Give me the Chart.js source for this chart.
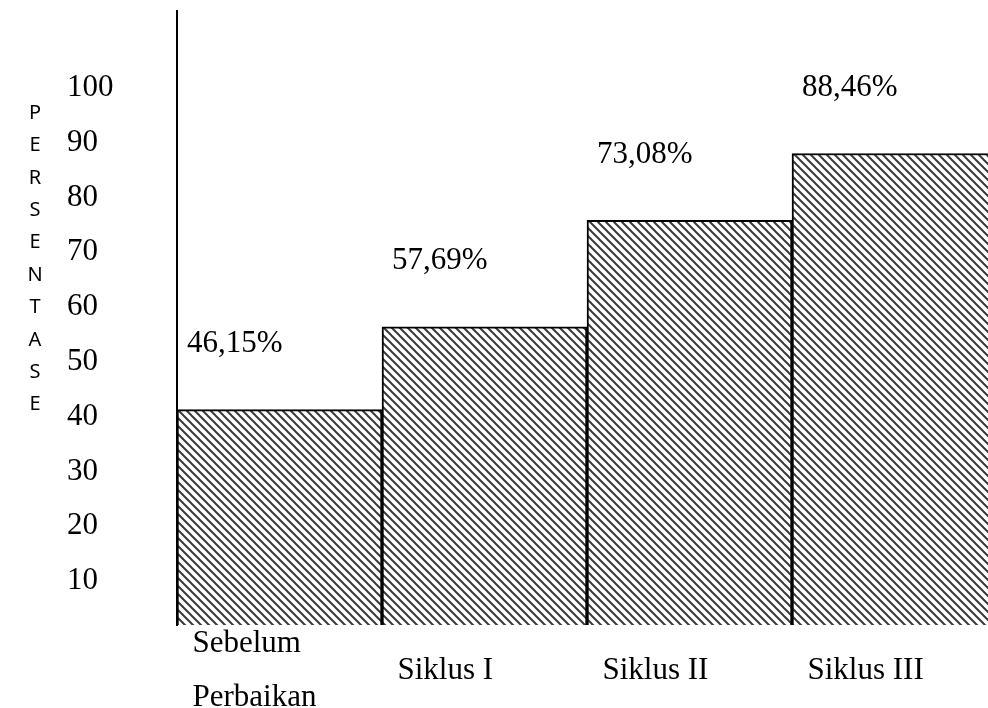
<!DOCTYPE html>
<html><head><meta charset="utf-8">
<script src="https://cdn.jsdelivr.net/npm/chart.js@4"></script>
<style>html,body{margin:0;padding:0;background:#fff;overflow:hidden}canvas{display:block}</style>
</head><body>
<canvas id="c" width="1000" height="708" style="width:1000px;height:708px"></canvas>
<script>
const categories = [['Sebelum', 'Perbaikan'], 'Siklus I', 'Siklus II', 'Siklus III'];
const barValues = [41.3, 56.4, 75.8, 88.0];
const valueLabels = ['46,15%', '57,69%', '73,08%', '88,46%'];
const yTicks = [10, 20, 30, 40, 50, 60, 70, 80, 90, 100];
const axisTitle = 'PERSENTASE';

function makeHatch() {
  const t = document.createElement('canvas');
  t.width = 8; t.height = 8;
  const g = t.getContext('2d');
  g.fillStyle = '#fff'; g.fillRect(0, 0, 8, 8);
  g.strokeStyle = '#3a3a3a'; g.lineWidth = 2;
  for (let s = -8; s <= 8; s += 8) {
    g.beginPath(); g.moveTo(s - 1, -1); g.lineTo(s + 9, 9); g.stroke();
  }
  return g.createPattern(t, 'repeat');
}

const serif = "'Liberation Serif', 'Times New Roman', serif";
Chart.defaults.color = '#000';

const labelPlugin = {
  id: 'labels',
  afterDatasetsDraw(chart) {
    const ctx = chart.ctx;
    const meta = chart.getDatasetMeta(0);
    ctx.save();
    ctx.font = '31px ' + serif;
    ctx.fillStyle = '#000';
    ctx.textAlign = 'left';
    ctx.textBaseline = 'middle';
    meta.data.forEach((el, i) => {
      ctx.fillText(valueLabels[i], el.x - el.width / 2 + 10, el.y - 66);
    });
    // vertical stacked axis title
    ctx.font = "20px 'Noto Sans', sans-serif";
    ctx.textAlign = 'center';
    const letters = axisTitle.split('');
    letters.forEach((ch, i) => ctx.fillText(ch, 35, 113 + i * 32.4));
    ctx.restore();
  }
};

new Chart(document.getElementById('c'), {
  type: 'bar',
  data: {
    labels: categories,
    datasets: [{
      data: barValues,
      backgroundColor: makeHatch(),
      borderColor: '#000',
      borderWidth: 2,
      borderSkipped: false,
      categoryPercentage: 1,
      barPercentage: 1
    }]
  },
  options: {
    responsive: false,
    devicePixelRatio: 1,
    animation: false,
    layout: { padding: { left: 67, right: 3, top: 11, bottom: 0 } },
    plugins: { legend: { display: false }, tooltip: { enabled: false } },
    scales: {
      x: {
        grid: { display: false },
        border: { display: false },
        ticks: {
          align: 'start',
          crossAlign: 'center',
          labelOffset: -87,
          autoSkip: false,
          maxRotation: 0,
          padding: 11,
          font: { family: serif, size: 31, lineHeight: 1.75 }
        },
        afterFit(s) { s.height = 83; s.paddingLeft = 0; s.paddingRight = 0; }
      },
      y: {
        min: 2,
        max: 114,
        grid: { display: false },
        border: { display: true, color: '#000', width: 2 },
        afterBuildTicks(s) { s.ticks = yTicks.map(v => ({ value: v })); },
        ticks: {
          crossAlign: 'far',
          font: { family: serif, size: 31 }
        },
        afterFit(s) { s.width = 110; s.paddingTop = 0; s.paddingBottom = 0; }
      }
    }
  },
  plugins: [labelPlugin]
});
</script>
</body></html>
